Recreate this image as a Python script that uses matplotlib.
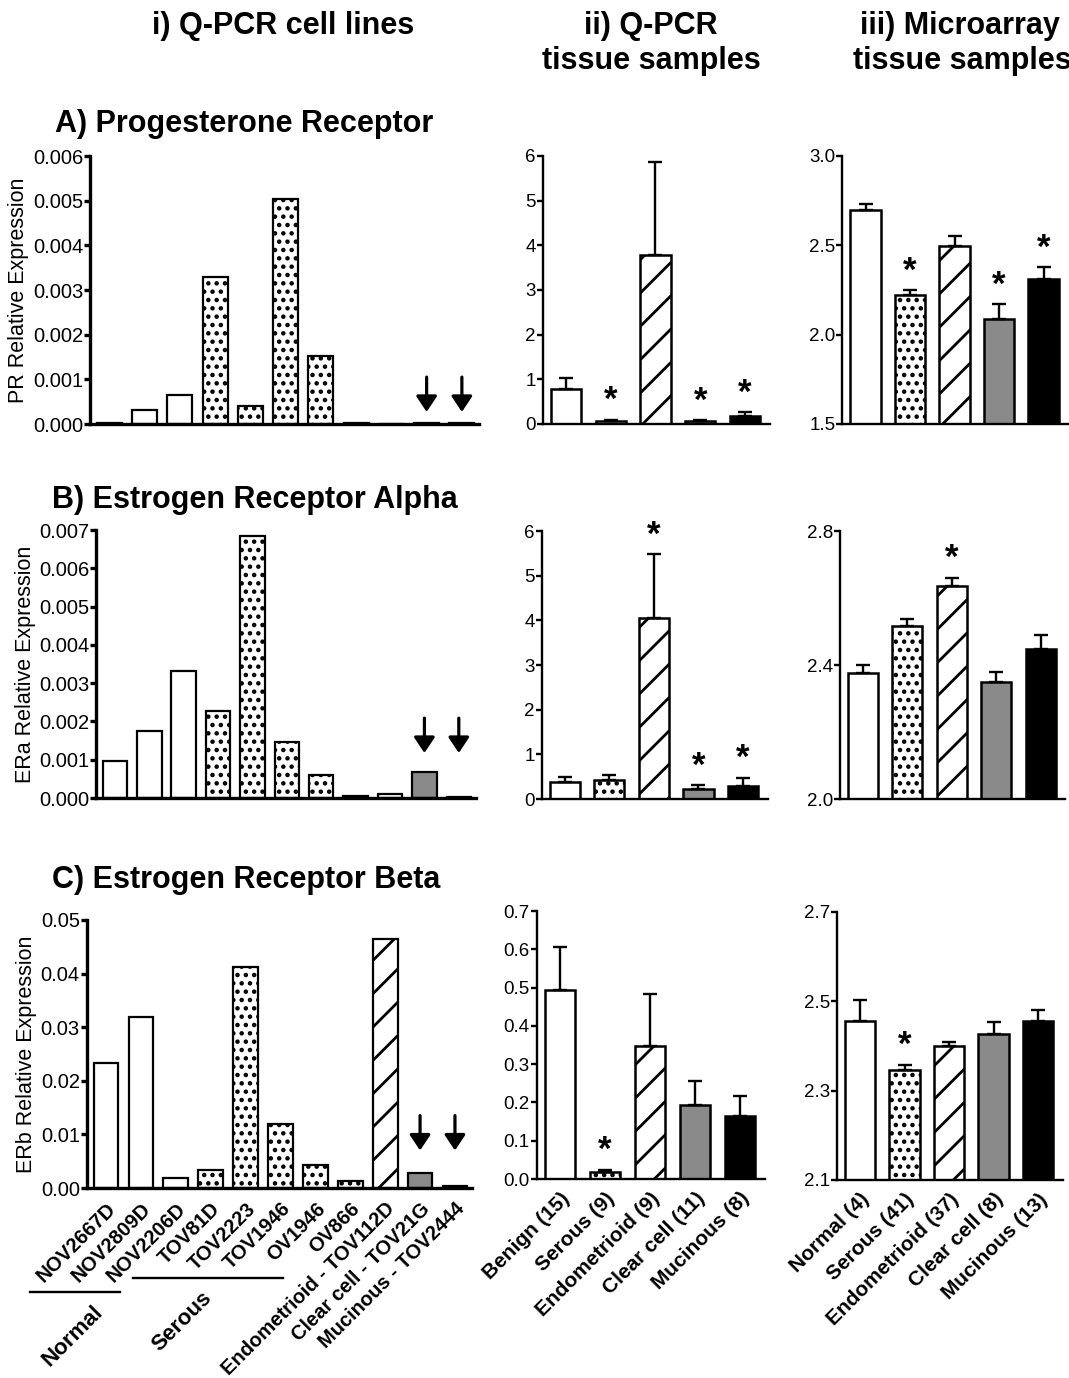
import matplotlib
matplotlib.use('Agg')
import matplotlib.pyplot as plt
from matplotlib.lines import Line2D
from matplotlib import font_manager

W, H = 1069, 1378

# ---- data -------------------------------------------------------------
cell_lines = ['NOV2667D', 'NOV2809D', 'NOV2206D', 'TOV81D', 'TOV2223', 'TOV1946',
              'OV1946', 'OV866', 'Endometrioid - TOV112D', 'Clear cell - TOV21G',
              'Mucinous - TOV2444']
cell_style = ['open', 'open', 'open', 'dot', 'dot', 'dot', 'dot', 'dot',
              'hatch', 'grey', 'black']

pr_cells = [0.00003, 0.00031, 0.00066, 0.00328, 0.00040, 0.00504, 0.00153,
            0.00002, 0.00001, 0.00002, 0.00002]
era_cells = [0.00097, 0.00175, 0.00333, 0.00227, 0.00684, 0.00147, 0.00060,
             0.00006, 0.00011, 0.00067, 0.00003]
erb_cells = [0.0233, 0.0319, 0.0018, 0.0033, 0.0413, 0.0120, 0.0042,
             0.0013, 0.0465, 0.0028, 0.0003]

qpcr_groups = ['Benign (15)', 'Serous (9)', 'Endometrioid (9)', 'Clear cell (11)', 'Mucinous (8)']
array_groups = ['Normal (4)', 'Serous (41)', 'Endometrioid (37)', 'Clear cell (8)', 'Mucinous (13)']
tissue_style = ['open', 'dot', 'hatch', 'grey', 'black']

pr_qpcr = [0.79, 0.07, 3.79, 0.06, 0.18]
pr_qpcr_err = [0.25, 0.03, 2.08, 0.02, 0.08]
pr_qpcr_sig = [0, 1, 0, 1, 1]
pr_array = [2.700, 2.221, 2.495, 2.085, 2.310]
pr_array_err = [0.033, 0.028, 0.058, 0.084, 0.068]
pr_array_sig = [0, 1, 0, 1, 1]

era_qpcr = [0.38, 0.43, 4.05, 0.22, 0.28]
era_qpcr_err = [0.11, 0.10, 1.43, 0.09, 0.20]
era_qpcr_sig = [0, 0, 1, 1, 1]
era_array = [2.376, 2.515, 2.635, 2.348, 2.449]
era_array_err = [0.023, 0.022, 0.026, 0.031, 0.041]
era_array_sig = [0, 0, 1, 0, 0]

erb_qpcr = [0.494, 0.017, 0.348, 0.194, 0.165]
erb_qpcr_err = [0.113, 0.007, 0.134, 0.063, 0.053]
erb_qpcr_sig = [0, 1, 0, 0, 0]
erb_array = [2.456, 2.347, 2.399, 2.427, 2.456]
erb_array_err = [0.048, 0.011, 0.011, 0.026, 0.025]
erb_array_sig = [0, 1, 0, 0, 0]


def has_font(name):
    try:
        font_manager.findfont(name, fallback_to_default=False)
        return True
    except ValueError:
        return False


SANS = 'Liberation Sans' if has_font('Liberation Sans') else 'DejaVu Sans'
NARROW = 'Liberation Sans Narrow' if has_font('Liberation Sans Narrow') else SANS

plt.rcParams['font.family'] = [SANS, 'DejaVu Sans']
plt.rcParams['hatch.linewidth'] = 2.0

FILL = {'open': 'white', 'dot': 'white', 'hatch': 'white', 'grey': '#8a8a8a', 'black': 'black'}
HATCH = {'dot': '..', 'hatch': '/'}

fig = plt.figure(figsize=(W / 100, H / 100), dpi=100)


def rect(left, top, width, height):
    return [left / W, 1 - (top + height) / H, width / W, height / H]


def style_axes(ax, lw, ticksize):
    for s in ['top', 'right']:
        ax.spines[s].set_visible(False)
    for s in ['left', 'bottom']:
        ax.spines[s].set_linewidth(lw)
        ax.spines[s].set_zorder(5)
    ax.tick_params(axis='y', direction='out', length=4, width=lw, pad=1,
                   labelsize=ticksize, labelfontfamily=NARROW)
    ax.tick_params(axis='x', length=0)


def draw_bars(ax, values, styles, width, lw):
    for i, (v, s) in enumerate(zip(values, styles)):
        ax.bar(i, v, width=width, color=FILL[s], edgecolor='black', linewidth=lw,
               hatch=HATCH.get(s), zorder=2)


def cell_panel(r, values, top, ticks, fmt, ylabel, label_x, arrow_y, labels):
    ax = fig.add_axes(rect(*r))
    draw_bars(ax, values, cell_style, 0.71, 1.6)
    ax.set_xlim(-0.55, 10.5)
    ax.set_ylim(0, top)
    ax.set_yticks(ticks)
    ax.set_yticklabels([fmt % t for t in ticks])
    style_axes(ax, 2.4, 14.5)
    ax.set_ylabel(ylabel, fontsize=15.5, va='center')
    ax.yaxis.set_label_coords((label_x - r[0]) / r[2], 0.5)
    for i in [9, 10]:
        ax.annotate('', xy=(i, arrow_y), xycoords=('data', 'axes fraction'),
                    xytext=(i, arrow_y + 0.13), textcoords=('data', 'axes fraction'),
                    arrowprops=dict(arrowstyle='-|>,head_length=0.45,head_width=0.3',
                                    mutation_scale=21, lw=2.3, color='black',
                                    shrinkA=0, shrinkB=0))
    ax.set_xticks(range(len(values)))
    if labels:
        ax.set_xticklabels(cell_lines, rotation=45, ha='right', va='top',
                           rotation_mode='anchor', fontsize=14.5, fontweight='bold')
        ax.tick_params(axis='x', pad=8)
    else:
        ax.set_xticklabels([])
    return ax


def tissue_panel(r, values, errs, sig, ylim, ticks, fmt, labels):
    ax = fig.add_axes(rect(*r))
    x = list(range(len(values)))
    draw_bars(ax, values, tissue_style, 0.68, 1.8)
    ax.errorbar(x, values, yerr=[[0] * len(errs), errs], fmt='none', ecolor='black',
                elinewidth=1.7, capsize=5, capthick=1.7, zorder=3)
    for i, (v, e, s) in enumerate(zip(values, errs, sig)):
        if s:
            ax.annotate('*', xy=(i, v + e), xytext=(0, 7), textcoords='offset points',
                        ha='center', va='baseline', fontsize=25, fontweight='bold')
    ax.set_xlim(-0.52, 4.55)
    ax.set_ylim(*ylim)
    ax.set_yticks(ticks)
    ax.set_yticklabels([fmt % t for t in ticks])
    style_axes(ax, 1.7, 13.5)
    ax.set_xticks(x)
    if labels:
        ax.set_xticklabels(labels, rotation=45, ha='right', va='top',
                           rotation_mode='anchor', fontsize=15, fontweight='bold')
        ax.tick_params(axis='x', pad=7)
    else:
        ax.set_xticklabels([])
    return ax


# ---- row A: progesterone receptor ------------------------------------
cell_panel((90, 156, 389.5, 268), pr_cells, 0.006,
           [0, 0.001, 0.002, 0.003, 0.004, 0.005, 0.006], '%.3f',
           'PR Relative Expression', 19, 0.045, False)
tissue_panel((542.7, 156, 226.9, 268), pr_qpcr, pr_qpcr_err, pr_qpcr_sig,
             (0, 6), [0, 1, 2, 3, 4, 5, 6], '%d', None)
tissue_panel((842.4, 156, 225.6, 268), pr_array, pr_array_err, pr_array_sig,
             (1.5, 3.0), [1.5, 2.0, 2.5, 3.0], '%.1f', None)

# ---- row B: estrogen receptor alpha ----------------------------------
cell_panel((96, 530, 380, 268), era_cells, 0.007,
           [0, 0.001, 0.002, 0.003, 0.004, 0.005, 0.006, 0.007], '%.3f',
           'ERa Relative Expression', 26, 0.168, False)
tissue_panel((541.5, 531, 226.1, 268), era_qpcr, era_qpcr_err, era_qpcr_sig,
             (0, 6), [0, 1, 2, 3, 4, 5, 6], '%d', None)
tissue_panel((839.7, 531, 225.6, 268), era_array, era_array_err, era_array_sig,
             (2.0, 2.8), [2.0, 2.4, 2.8], '%.1f', None)

# ---- row C: estrogen receptor beta -----------------------------------
cell_panel((86.8, 920, 385.6, 268), erb_cells, 0.05,
           [0, 0.01, 0.02, 0.03, 0.04, 0.05], '%.2f',
           'ERb Relative Expression', 27, 0.14, True)
tissue_panel((536.6, 911, 228, 268), erb_qpcr, erb_qpcr_err, erb_qpcr_sig,
             (0, 0.7), [0, 0.1, 0.2, 0.3, 0.4, 0.5, 0.6, 0.7], '%.1f', qpcr_groups)
tissue_panel((836.9, 912, 225.6, 268), erb_array, erb_array_err, erb_array_sig,
             (2.1, 2.7), [2.1, 2.3, 2.5, 2.7], '%.1f', array_groups)

# ---- headers ----------------------------------------------------------
def ftext(x, y, s, **kw):
    fig.text(x / W, 1 - y / H, s, **kw)


hdr = dict(fontsize=22, fontweight='bold', va='baseline')
ftext(283, 34, 'i) Q-PCR cell lines', ha='center', **hdr)
ftext(651, 34, 'ii) Q-PCR', ha='center', **hdr)
ftext(651, 69, 'tissue samples', ha='center', **hdr)
ftext(960, 34, 'iii) Microarray', ha='center', **hdr)
ftext(962, 69, 'tissue samples', ha='center', **hdr)
ftext(55, 132, 'A) Progesterone Receptor', ha='left', **hdr)
ftext(52, 508, 'B) Estrogen Receptor Alpha', ha='left', **hdr)
ftext(52, 888, 'C) Estrogen Receptor Beta', ha='left', **hdr)

# group labels under the cell line names
grp = dict(fontsize=16, fontweight='bold', rotation=45, ha='right', va='top',
           rotation_mode='anchor')
ftext(92, 1302, 'Normal', **grp)
ftext(201, 1287, 'Serous', **grp)
fig.add_artist(Line2D([30 / W, 120 / W], [1 - 1292 / H, 1 - 1292 / H],
                      transform=fig.transFigure, color='black', lw=1.7))
fig.add_artist(Line2D([133 / W, 283 / W], [1 - 1278 / H, 1 - 1278 / H],
                      transform=fig.transFigure, color='black', lw=1.7))

fig.savefig('out.png', dpi=100)
